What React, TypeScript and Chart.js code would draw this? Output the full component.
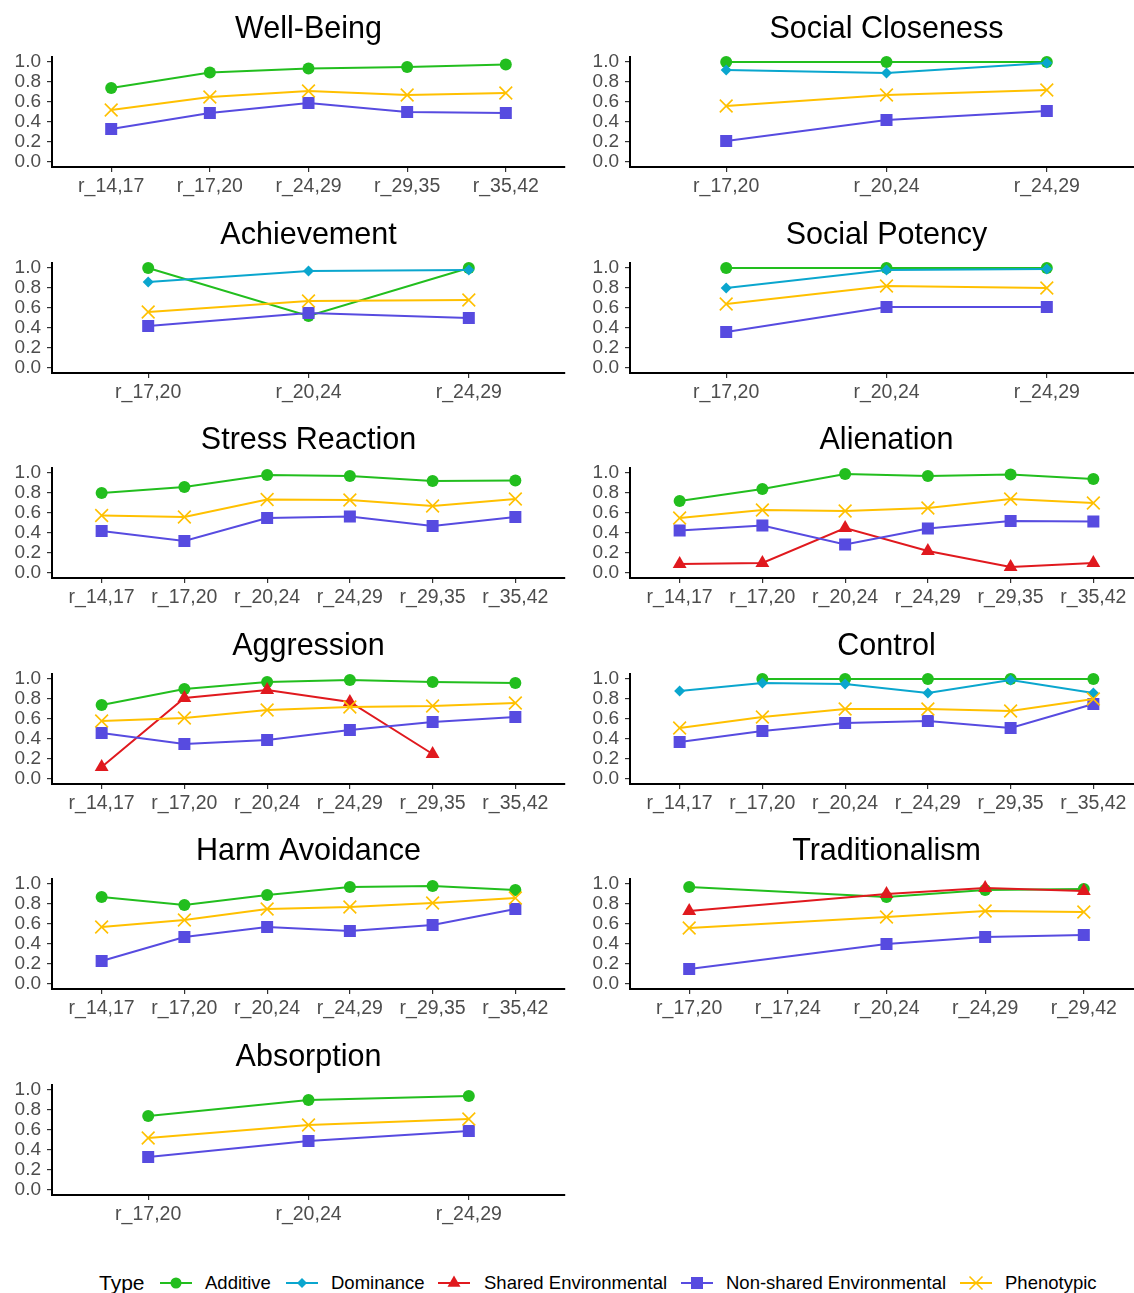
import React, { useEffect, useRef } from "react";
import { Chart, registerables } from "chart.js";

Chart.register(...registerables);

const FONT = "'Liberation Sans', Arial, Helvetica, sans-serif";

// ---- category sets ----
const catsWellBeing = ["r_14,17", "r_17,20", "r_24,29", "r_29,35", "r_35,42"];
const catsThree = ["r_17,20", "r_20,24", "r_24,29"];
const catsSix = ["r_14,17", "r_17,20", "r_20,24", "r_24,29", "r_29,35", "r_35,42"];
const catsTraditionalism = ["r_17,20", "r_17,24", "r_20,24", "r_24,29", "r_29,42"];

const yTickValues = [0, 0.2, 0.4, 0.6, 0.8, 1.0];

// ---- Well-Being ----
const wellBeingAdditive = [0.74, 0.895, 0.935, 0.95, 0.975];
const wellBeingNonShared = [0.33, 0.49, 0.59, 0.5, 0.49];
const wellBeingPhenotypic = [0.52, 0.65, 0.71, 0.67, 0.69];

// ---- Social Closeness ----
const socialClosenessAdditive = [1.0, 1.0, 1.0];
const socialClosenessDominance = [0.92, 0.89, 0.99];
const socialClosenessNonShared = [0.21, 0.42, 0.51];
const socialClosenessPhenotypic = [0.56, 0.67, 0.72];

// ---- Achievement ----
const achievementAdditive = [1.0, 0.52, 1.0];
const achievementDominance = [0.86, 0.97, 0.98];
const achievementNonShared = [0.42, 0.55, 0.5];
const achievementPhenotypic = [0.56, 0.67, 0.68];

// ---- Social Potency ----
const socialPotencyAdditive = [1.0, 1.0, 1.0];
const socialPotencyDominance = [0.8, 0.98, 0.99];
const socialPotencyNonShared = [0.36, 0.61, 0.61];
const socialPotencyPhenotypic = [0.64, 0.82, 0.8];

// ---- Stress Reaction ----
const stressAdditive = [0.8, 0.86, 0.98, 0.97, 0.92, 0.925];
const stressNonShared = [0.42, 0.32, 0.55, 0.565, 0.47, 0.56];
const stressPhenotypic = [0.575, 0.56, 0.735, 0.73, 0.67, 0.74];

// ---- Alienation ----
const alienationAdditive = [0.72, 0.84, 0.99, 0.97, 0.985, 0.94];
const alienationShared = [0.09, 0.1, 0.45, 0.22, 0.06, 0.1];
const alienationNonShared = [0.425, 0.475, 0.285, 0.445, 0.52, 0.515];
const alienationPhenotypic = [0.55, 0.63, 0.62, 0.65, 0.74, 0.7];

// ---- Aggression ----
const aggressionAdditive = [0.74, 0.9, 0.97, 0.99, 0.97, 0.96];
const aggressionShared = [0.12, 0.81, 0.89, 0.77, 0.25, null];
const aggressionNonShared = [0.46, 0.35, 0.39, 0.49, 0.57, 0.62];
const aggressionPhenotypic = [0.58, 0.61, 0.69, 0.72, 0.73, 0.76];

// ---- Control ----
const controlAdditive = [null, 1.0, 1.0, 1.0, 1.0, 1.0];
const controlDominance = [0.88, 0.96, 0.95, 0.86, 0.99, 0.86];
const controlNonShared = [0.37, 0.48, 0.56, 0.58, 0.51, 0.75];
const controlPhenotypic = [0.51, 0.62, 0.7, 0.7, 0.68, 0.8];

// ---- Harm Avoidance ----
const harmAdditive = [0.87, 0.79, 0.89, 0.97, 0.98, 0.94];
const harmNonShared = [0.23, 0.47, 0.57, 0.53, 0.59, 0.75];
const harmPhenotypic = [0.57, 0.64, 0.75, 0.77, 0.81, 0.86];

// ---- Traditionalism ----
const traditionalismAdditive = [0.97, null, 0.87, 0.94, 0.95];
const traditionalismShared = [0.73, null, 0.9, 0.96, 0.93];
const traditionalismNonShared = [0.15, null, 0.4, 0.47, 0.49];
const traditionalismPhenotypic = [0.56, null, 0.67, 0.73, 0.72];

// ---- Absorption ----
const absorptionAdditive = [0.74, 0.9, 0.94];
const absorptionNonShared = [0.33, 0.49, 0.59];
const absorptionPhenotypic = [0.52, 0.65, 0.71];

type TypeKey = "additive" | "dominance" | "shared" | "nonshared" | "phenotypic";

const TYPE_STYLE: Record<
  TypeKey,
  { label: string; color: string; pointStyle: string; radius: number; order: number }
> = {
  additive: { label: "Additive", color: "#22BE1E", pointStyle: "circle", radius: 6, order: 5 },
  dominance: { label: "Dominance", color: "#0AA6CE", pointStyle: "rectRot", radius: 5.5, order: 4 },
  shared: { label: "Shared Environmental", color: "#E0191E", pointStyle: "triangle", radius: 8, order: 3 },
  nonshared: { label: "Non-shared Environmental", color: "#574BE0", pointStyle: "rect", radius: 8.5, order: 2 },
  phenotypic: { label: "Phenotypic", color: "#FFC000", pointStyle: "crossRot", radius: 9, order: 1 },
};

const TYPE_ORDER: TypeKey[] = ["additive", "dominance", "shared", "nonshared", "phenotypic"];

type Panel = {
  title: string;
  cats: string[];
  row: number;
  col: number;
  series: Partial<Record<TypeKey, (number | null)[]>>;
};

const panels: Panel[] = [
  {
    title: "Well-Being", cats: catsWellBeing, row: 0, col: 0,
    series: { additive: wellBeingAdditive, nonshared: wellBeingNonShared, phenotypic: wellBeingPhenotypic },
  },
  {
    title: "Social Closeness", cats: catsThree, row: 0, col: 1,
    series: {
      additive: socialClosenessAdditive, dominance: socialClosenessDominance,
      nonshared: socialClosenessNonShared, phenotypic: socialClosenessPhenotypic,
    },
  },
  {
    title: "Achievement", cats: catsThree, row: 1, col: 0,
    series: {
      additive: achievementAdditive, dominance: achievementDominance,
      nonshared: achievementNonShared, phenotypic: achievementPhenotypic,
    },
  },
  {
    title: "Social Potency", cats: catsThree, row: 1, col: 1,
    series: {
      additive: socialPotencyAdditive, dominance: socialPotencyDominance,
      nonshared: socialPotencyNonShared, phenotypic: socialPotencyPhenotypic,
    },
  },
  {
    title: "Stress Reaction", cats: catsSix, row: 2, col: 0,
    series: { additive: stressAdditive, nonshared: stressNonShared, phenotypic: stressPhenotypic },
  },
  {
    title: "Alienation", cats: catsSix, row: 2, col: 1,
    series: {
      additive: alienationAdditive, shared: alienationShared,
      nonshared: alienationNonShared, phenotypic: alienationPhenotypic,
    },
  },
  {
    title: "Aggression", cats: catsSix, row: 3, col: 0,
    series: {
      additive: aggressionAdditive, shared: aggressionShared,
      nonshared: aggressionNonShared, phenotypic: aggressionPhenotypic,
    },
  },
  {
    title: "Control", cats: catsSix, row: 3, col: 1,
    series: {
      additive: controlAdditive, dominance: controlDominance,
      nonshared: controlNonShared, phenotypic: controlPhenotypic,
    },
  },
  {
    title: "Harm Avoidance", cats: catsSix, row: 4, col: 0,
    series: { additive: harmAdditive, nonshared: harmNonShared, phenotypic: harmPhenotypic },
  },
  {
    title: "Traditionalism", cats: catsTraditionalism, row: 4, col: 1,
    series: {
      additive: traditionalismAdditive, shared: traditionalismShared,
      nonshared: traditionalismNonShared, phenotypic: traditionalismPhenotypic,
    },
  },
  {
    title: "Absorption", cats: catsThree, row: 5, col: 0,
    series: { additive: absorptionAdditive, nonshared: absorptionNonShared, phenotypic: absorptionPhenotypic },
  },
];

// panel geometry
const ROW_STEP = 205.6;
const CANVAS_H = 205;
const PLOT_TOP = 57;
const XAXIS_H = 38;
const COLS = [
  { left: 0, width: 567, yAxisW: 52, padRight: 2 },
  { left: 567, width: 577, yAxisW: 63, padRight: 1 },
];

const TICK_COLOR = "#4D4D4D";

const panelTitlePlugin = {
  id: "panelTitle",
  afterDraw(chart: any, _args: any, opts: any) {
    const { ctx, chartArea } = chart;
    ctx.save();
    ctx.font = `30.5px ${FONT}`;
    ctx.fillStyle = "#000000";
    ctx.textAlign = "center";
    ctx.textBaseline = "middle";
    ctx.fillText(opts.text, (chartArea.left + chartArea.right) / 2, chartArea.top - 27);
    ctx.restore();
  },
};

function PanelChart({ panel }: { panel: Panel }) {
  const ref = useRef<HTMLCanvasElement | null>(null);
  const col = COLS[panel.col];

  useEffect(() => {
    if (!ref.current) return;
    const n = panel.cats.length;
    const datasets = TYPE_ORDER.filter((k) => panel.series[k]).map((k) => {
      const st = TYPE_STYLE[k];
      const vals = panel.series[k] as (number | null)[];
      const isCross = st.pointStyle === "crossRot";
      return {
        label: st.label,
        data: vals.map((v, i) => ({ x: i, y: v })),
        borderColor: st.color,
        backgroundColor: st.color,
        borderWidth: 2,
        pointStyle: st.pointStyle,
        pointRadius: st.radius,
        pointBackgroundColor: st.color,
        pointBorderColor: st.color,
        pointBorderWidth: isCross ? 1.6 : 0,
        spanGaps: true,
        tension: 0,
        order: st.order,
        clip: 12,
      };
    });

    const chart = new Chart(ref.current, {
      type: "line",
      data: { datasets } as any,
      plugins: [panelTitlePlugin as any],
      options: {
        animation: false,
        responsive: false,
        maintainAspectRatio: false,
        layout: {
          autoPadding: false,
          padding: { top: PLOT_TOP, left: 0, right: col.padRight, bottom: 0 },
        },
        plugins: {
          legend: { display: false },
          tooltip: { enabled: false },
          panelTitle: { text: panel.title },
        } as any,
        scales: {
          x: {
            type: "linear",
            min: -0.6,
            max: n - 1 + 0.6,
            afterBuildTicks: (scale: any) => {
              scale.ticks = panel.cats.map((_, i) => ({ value: i }));
            },
            afterFit: (scale: any) => {
              scale.height = XAXIS_H;
              scale.paddingLeft = 0;
              scale.paddingRight = 0;
            },
            ticks: {
              autoSkip: false,
              maxRotation: 0,
              padding: 3,
              color: TICK_COLOR,
              font: { family: FONT, size: 19.5 },
              callback: (v: any) => panel.cats[Math.round(Number(v))] ?? "",
            },
            grid: {
              display: true,
              drawOnChartArea: false,
              drawTicks: true,
              tickLength: 5,
              color: "#333333",
              lineWidth: 1.2,
            },
            border: { display: true, color: "#000000", width: 2 },
          },
          y: {
            type: "linear",
            min: -0.05,
            max: 1.05,
            afterBuildTicks: (scale: any) => {
              scale.ticks = yTickValues.map((v) => ({ value: v }));
            },
            afterFit: (scale: any) => {
              scale.width = col.yAxisW;
              scale.paddingTop = 0;
              scale.paddingBottom = 0;
            },
            ticks: {
              autoSkip: false,
              padding: 6,
              color: TICK_COLOR,
              font: { family: FONT, size: 19 },
              callback: (v: any) => Number(v).toFixed(1),
            },
            grid: {
              display: true,
              drawOnChartArea: false,
              drawTicks: true,
              tickLength: 5,
              color: "#333333",
              lineWidth: 1.2,
            },
            border: { display: true, color: "#000000", width: 2 },
          },
        },
      } as any,
    });
    return () => chart.destroy();
  }, [panel]);

  return (
    <canvas
      ref={ref}
      width={col.width}
      height={CANVAS_H}
      style={{
        position: "absolute",
        left: col.left,
        top: Math.round(panel.row * ROW_STEP),
        width: col.width,
        height: CANVAS_H,
      }}
    />
  );
}

function LegendIcon({ k }: { k: TypeKey }) {
  const st = TYPE_STYLE[k];
  const c = st.color;
  let marker: React.ReactNode = null;
  if (k === "additive") marker = <circle cx={16} cy={11} r={5.5} fill={c} />;
  if (k === "dominance") marker = <polygon points="16,6 21,11 16,16 11,11" fill={c} />;
  if (k === "shared") marker = <polygon points="16,3.5 22.5,14.75 9.5,14.75" fill={c} />;
  if (k === "nonshared") marker = <rect x={10} y={5} width={12} height={12} fill={c} />;
  if (k === "phenotypic")
    marker = (
      <g stroke={c} strokeWidth={1.6}>
        <line x1={9.5} y1={4.5} x2={22.5} y2={17.5} />
        <line x1={9.5} y1={17.5} x2={22.5} y2={4.5} />
      </g>
    );
  return (
    <svg width={32} height={22} style={{ display: "block" }}>
      <line x1={0} y1={11} x2={32} y2={11} stroke={c} strokeWidth={2} />
      {marker}
    </svg>
  );
}

const legendIconCenters: Record<TypeKey, number> = {
  additive: 176,
  dominance: 302,
  shared: 454,
  nonshared: 697,
  phenotypic: 976,
};
const legendTextLefts: Record<TypeKey, number> = {
  additive: 205,
  dominance: 331,
  shared: 484,
  nonshared: 726,
  phenotypic: 1005,
};

function Legend() {
  const cy = 1283;
  return (
    <div>
      <div
        style={{
          position: "absolute",
          left: 99,
          top: cy - 13,
          height: 26,
          lineHeight: "26px",
          fontFamily: FONT,
          fontSize: 21,
          color: "#000",
          whiteSpace: "nowrap",
        }}
      >
        Type
      </div>
      {TYPE_ORDER.map((k) => (
        <React.Fragment key={k}>
          <div style={{ position: "absolute", left: legendIconCenters[k] - 16, top: cy - 11 }}>
            <LegendIcon k={k} />
          </div>
          <div
            style={{
              position: "absolute",
              left: legendTextLefts[k],
              top: cy - 13,
              height: 26,
              lineHeight: "26px",
              fontFamily: FONT,
              fontSize: 18.5,
              color: "#000",
              whiteSpace: "nowrap",
            }}
          >
            {TYPE_STYLE[k].label}
          </div>
        </React.Fragment>
      ))}
    </div>
  );
}

export default function App() {
  return (
    <div
      style={{
        position: "absolute",
        left: 0,
        top: 0,
        width: 1134,
        height: 1293,
        overflow: "hidden",
        background: "#ffffff",
      }}
    >
      {panels.map((p) => (
        <PanelChart key={p.title} panel={p} />
      ))}
      <Legend />
    </div>
  );
}
